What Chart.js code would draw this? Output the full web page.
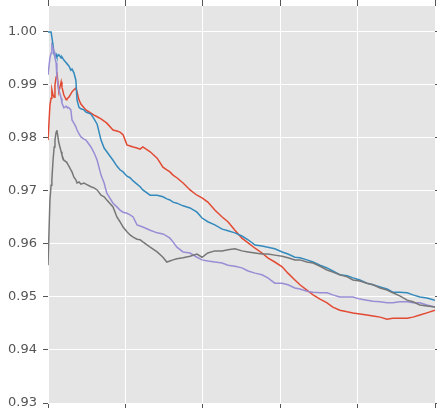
<!DOCTYPE html>
<html>
<head>
<meta charset="utf-8">
<script src="https://cdn.jsdelivr.net/npm/chart.js@4/dist/chart.umd.min.js"></script>
<style>
  html, body { margin: 0; padding: 0; background: #fff; }
  canvas { display: block; }
</style>
</head>
<body>
<canvas id="chart" width="437" height="408"></canvas>
<script>
const steps = [0, 5, 8, 10, 13, 16, 18, 21, 23, 28, 34, 36, 41, 47, 49, 54, 59, 62, 67, 72,
    75, 80, 85, 93, 98, 111, 119, 127, 137, 145, 152, 168, 178, 186, 194, 204, 212, 220, 230, 238,
    245, 264, 282, 297, 307, 315, 323, 333, 349, 367, 385, 398, 413, 431, 450, 465, 483, 501, 517, 535,
    553, 568, 586, 605, 620, 638, 651, 669, 685, 703, 721, 736, 754, 773, 788, 806, 824, 840, 858, 876,
    891, 909, 928, 943, 961, 979, 1000];

const redSeries = [0.9796, 0.9862, 0.9875, 0.9891, 0.9881, 0.9877, 0.9900, 0.9915, 0.9925, 0.9887,
    0.9906, 0.9896, 0.9881, 0.9872, 0.9874, 0.9877, 0.9883, 0.9887, 0.9891, 0.9894,
    0.9887, 0.9872, 0.9864, 0.9857, 0.9853, 0.9847, 0.9843, 0.9840, 0.9836, 0.9832,
    0.9828, 0.9815, 0.9813, 0.9811, 0.9806, 0.9787, 0.9785, 0.9783, 0.9781, 0.9779,
    0.9783, 0.9774, 0.9762, 0.9745, 0.9740, 0.9736, 0.9730, 0.9725, 0.9715, 0.9702,
    0.9692, 0.9687, 0.9679, 0.9664, 0.9651, 0.9642, 0.9626, 0.9611, 0.9602, 0.9592,
    0.9583, 0.9574, 0.9566, 0.9557, 0.9545, 0.9532, 0.9523, 0.9513, 0.9504, 0.9496,
    0.9489, 0.9481, 0.9475, 0.9472, 0.9470, 0.9468, 0.9466, 0.9464, 0.9462, 0.9458,
    0.9460, 0.9460, 0.9460, 0.9462, 0.9466, 0.9470, 0.9475];

const blueSeries = [1.0000, 1.0000, 1.0000, 1.0000, 0.9975, 0.9957, 0.9955, 0.9958, 0.9953, 0.9957,
    0.9951, 0.9953, 0.9947, 0.9942, 0.9940, 0.9936, 0.9928, 0.9930, 0.9923, 0.9909,
    0.9872, 0.9858, 0.9855, 0.9853, 0.9849, 0.9845, 0.9836, 0.9826, 0.9796, 0.9781,
    0.9774, 0.9758, 0.9747, 0.9740, 0.9736, 0.9728, 0.9725, 0.9719, 0.9713, 0.9708,
    0.9702, 0.9692, 0.9692, 0.9689, 0.9685, 0.9683, 0.9679, 0.9677, 0.9672, 0.9668,
    0.9660, 0.9649, 0.9642, 0.9636, 0.9628, 0.9625, 0.9621, 0.9615, 0.9608, 0.9598,
    0.9596, 0.9594, 0.9591, 0.9585, 0.9581, 0.9575, 0.9574, 0.9570, 0.9566, 0.9560,
    0.9555, 0.9549, 0.9542, 0.9540, 0.9536, 0.9532, 0.9526, 0.9523, 0.9519, 0.9515,
    0.9509, 0.9509, 0.9508, 0.9504, 0.9500, 0.9498, 0.9494];

const purpleSeries = [0.9919, 0.9951, 0.9960, 0.9975, 0.9970, 0.9962, 0.9951, 0.9942, 0.9915, 0.9891,
    0.9875, 0.9866, 0.9857, 0.9860, 0.9858, 0.9857, 0.9853, 0.9834, 0.9828, 0.9821,
    0.9815, 0.9808, 0.9802, 0.9798, 0.9796, 0.9783, 0.9772, 0.9758, 0.9730, 0.9715,
    0.9696, 0.9677, 0.9670, 0.9664, 0.9660, 0.9658, 0.9655, 0.9651, 0.9636, 0.9634,
    0.9632, 0.9626, 0.9621, 0.9619, 0.9615, 0.9611, 0.9604, 0.9594, 0.9585, 0.9583,
    0.9575, 0.9570, 0.9568, 0.9566, 0.9564, 0.9560, 0.9558, 0.9555, 0.9549, 0.9545,
    0.9542, 0.9536, 0.9526, 0.9526, 0.9523, 0.9517, 0.9515, 0.9511, 0.9509, 0.9508,
    0.9508, 0.9504, 0.9500, 0.9500, 0.9500, 0.9496, 0.9494, 0.9492, 0.9491, 0.9489,
    0.9489, 0.9491, 0.9491, 0.9489, 0.9489, 0.9485, 0.9481];

const graySeries = [0.9560, 0.9683, 0.9711, 0.9721, 0.9758, 0.9783, 0.9796, 0.9811, 0.9815, 0.9791,
    0.9774, 0.9768, 0.9758, 0.9755, 0.9753, 0.9747, 0.9740, 0.9736, 0.9726, 0.9721,
    0.9715, 0.9717, 0.9713, 0.9715, 0.9713, 0.9708, 0.9706, 0.9702, 0.9692, 0.9689,
    0.9683, 0.9670, 0.9651, 0.9642, 0.9632, 0.9623, 0.9617, 0.9613, 0.9609, 0.9608,
    0.9604, 0.9594, 0.9585, 0.9575, 0.9566, 0.9568, 0.9570, 0.9572, 0.9574, 0.9577,
    0.9581, 0.9575, 0.9583, 0.9587, 0.9587, 0.9589, 0.9591, 0.9587, 0.9585, 0.9583,
    0.9581, 0.9581, 0.9579, 0.9577, 0.9574, 0.9570, 0.9570, 0.9566, 0.9564, 0.9558,
    0.9551, 0.9547, 0.9542, 0.9538, 0.9532, 0.9530, 0.9526, 0.9523, 0.9517, 0.9513,
    0.9508, 0.9502, 0.9494, 0.9491, 0.9485, 0.9483, 0.9481];

const yTicks = [0.93, 0.94, 0.95, 0.96, 0.97, 0.98, 0.99, 1.00];
const xTicks = [0, 200, 400, 600, 800, 1000];

function toPoints(values) {
    return values.map((v, i) => ({ x: steps[i], y: v }));
}

// grey panel behind the plot, like matplotlib's ggplot style
const panelBackground = {
    id: "panelBackground",
    beforeDraw(chart) {
        const { ctx, chartArea } = chart;
        ctx.save();
        ctx.fillStyle = "#E5E5E5";
        ctx.fillRect(chartArea.left, chartArea.top, chartArea.right - chartArea.left, chartArea.bottom - chartArea.top);
        ctx.restore();
    }
};

function lineSet(values, color, order) {
    return {
        data: toPoints(values),
        borderColor: color,
        borderWidth: 1.5,
        pointRadius: 0,
        tension: 0,
        fill: false,
        order: order
    };
}

// keep the tick labels from pushing the plot area inwards
function fixSize(width, height) {
    return (scale) => {
        if (width !== null) scale.width = width;
        if (height !== null) scale.height = height;
        scale.paddingTop = 0;
        scale.paddingBottom = 0;
        scale.paddingLeft = 0;
        scale.paddingRight = 0;
    };
}

const tickMarks = {
    color: "#FFFFFF",
    lineWidth: 1,
    tickColor: "#555555",
    tickLength: 5
};

new Chart(document.getElementById("chart"), {
    type: "line",
    data: {
        datasets: [
            lineSet(redSeries, "#E24A33", 3),
            lineSet(blueSeries, "#348ABD", 2),
            lineSet(purpleSeries, "#988ED5", 1),
            lineSet(graySeries, "#777777", 0)
        ]
    },
    options: {
        responsive: false,
        animation: false,
        layout: { padding: 0 },
        plugins: {
            legend: { display: false },
            tooltip: { enabled: false }
        },
        scales: {
            x: {
                type: "linear",
                position: "bottom",
                min: 0,
                max: 1000,
                afterBuildTicks: (scale) => { scale.ticks = xTicks.map((v) => ({ value: v })); },
                afterFit: fixSize(null, 5),
                ticks: { display: false },
                grid: tickMarks,
                border: { display: false }
            },
            xTop: {
                type: "linear",
                position: "top",
                min: 0,
                max: 1000,
                afterBuildTicks: (scale) => { scale.ticks = xTicks.map((v) => ({ value: v })); },
                afterFit: fixSize(null, 6),
                ticks: { display: false },
                grid: { drawOnChartArea: false, tickColor: "#555555", tickLength: 6 },
                border: { display: false }
            },
            y: {
                position: "left",
                min: 0.93,
                max: 1.0049,
                afterBuildTicks: (scale) => { scale.ticks = yTicks.map((v) => ({ value: v })); },
                afterFit: fixSize(48, null),
                ticks: {
                    padding: 6,
                    color: "#555555",
                    font: { family: "DejaVu Sans", size: 13 },
                    callback: (value) => value.toFixed(2)
                },
                grid: tickMarks,
                border: { display: false }
            },
            yRight: {
                position: "right",
                min: 0.93,
                max: 1.0049,
                afterBuildTicks: (scale) => { scale.ticks = yTicks.map((v) => ({ value: v })); },
                afterFit: fixSize(2, null),
                ticks: { display: false },
                grid: { drawOnChartArea: false, tickColor: "#555555", tickLength: 5 },
                border: { display: false }
            }
        }
    },
    plugins: [panelBackground]
});
</script>
</body>
</html>
